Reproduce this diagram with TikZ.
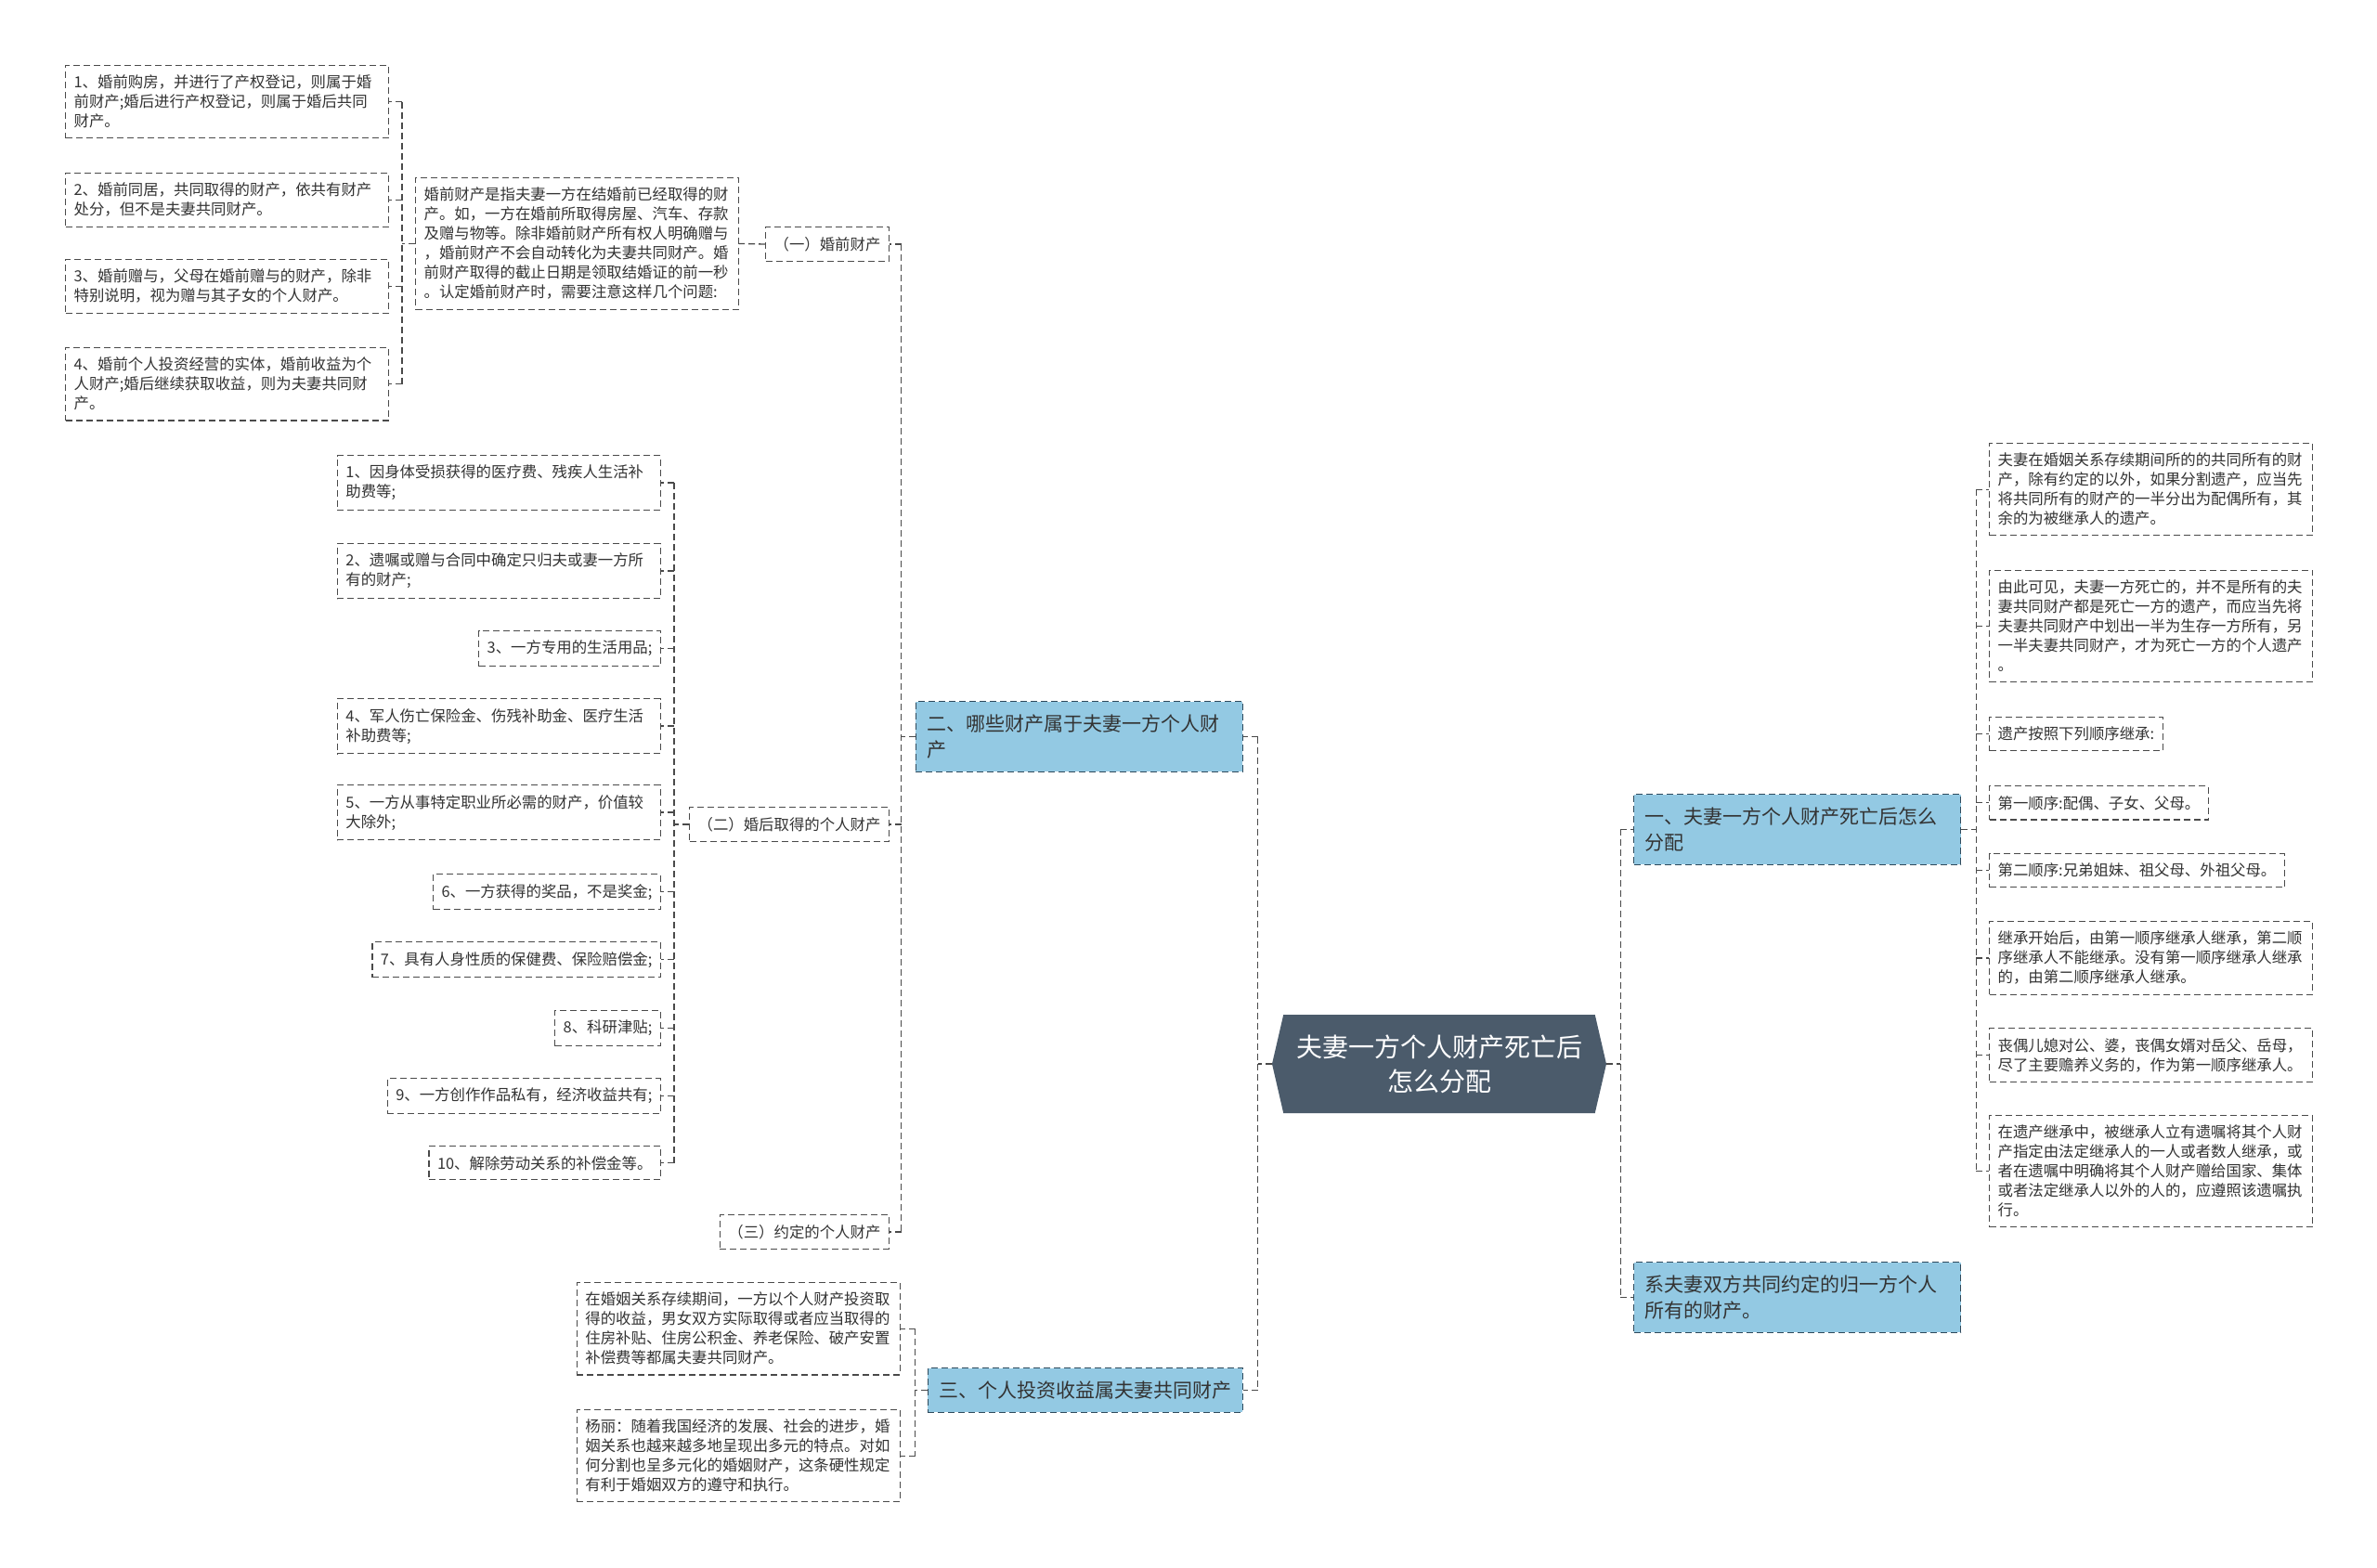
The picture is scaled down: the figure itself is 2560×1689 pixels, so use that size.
\documentclass[tikz,border=0pt]{standalone}
\usepackage{fontspec}
\setmainfont{Noto Sans CJK SC}
\usetikzlibrary{shapes.symbols}
\definecolor{cRoot}{HTML}{4B5B6B}
\definecolor{cSec}{HTML}{93C9E3}
\definecolor{cSecLine}{HTML}{2F4A5C}
\definecolor{cLeafLine}{HTML}{4A4A4A}
\definecolor{cText}{HTML}{333333}

\begin{document}
\begin{tikzpicture}[
  x=1pt, y=-1pt,
  every node/.style={text=cText},
  leaf/.style={draw=cLeafLine, line width=1.2pt, dash pattern=on 7pt off 4pt, fill=white, align=left, inner xsep=9pt, inner ysep=10.5pt, font=\fontsize{16.4}{21}\selectfont},
  wide/.style={leaf, text width=330pt},
  sec/.style={draw=cSecLine, line width=1.4pt, dash pattern=on 7pt off 4pt, fill=cSec, align=left, inner xsep=12pt, inner ysep=14pt, font=\fontsize{21}{28}\selectfont},
  secwide/.style={sec, text width=328pt},
  root/.style={shape=signal, signal to=west and east, signal pointer angle=154, fill=cRoot, text=white, align=center, minimum width=360pt, minimum height=106pt, inner sep=0pt, font=\fontsize{28}{37}\selectfont},
  link/.style={draw=cLeafLine, line width=1.3pt, dash pattern=on 7pt off 4pt},
]
\useasboundingbox (0,0) rectangle (2560,1689);

% centre
\node[root] (root) at (1550,1146) {夫妻一方个人财产死亡后\\怎么分配};

% left: sections
\node[secwide, anchor=north east] (s2) at (1339,755) {二、哪些财产属于夫妻一方个人财\\产};
\node[sec, anchor=north east] (s3) at (1339,1473) {三、个人投资收益属夫妻共同财产};

\node[leaf, anchor=east] (c1) at (958,263) {（一）婚前财产};
\node[leaf, anchor=east] (c2) at (958,888) {（二）婚后取得的个人财产};
\node[leaf, anchor=east] (c3) at (958,1327) {（三）约定的个人财产};

\node[wide, anchor=north west] (d0) at (447,191) {婚前财产是指夫妻一方在结婚前已经取得的财\\产。如，一方在婚前所取得房屋、汽车、存款\\及赠与物等。除非婚前财产所有权人明确赠与\\，婚前财产不会自动转化为夫妻共同财产。婚\\前财产取得的截止日期是领取结婚证的前一秒\\。认定婚前财产时，需要注意这样几个问题:};

\node[wide, anchor=north west] (l1) at (70,70) {1、婚前购房，并进行了产权登记，则属于婚\\前财产;婚后进行产权登记，则属于婚后共同\\财产。};
\node[wide, anchor=north west] (l2) at (70,186) {2、婚前同居，共同取得的财产，依共有财产\\处分，但不是夫妻共同财产。};
\node[wide, anchor=north west] (l3) at (70,279) {3、婚前赠与，父母在婚前赠与的财产，除非\\特别说明，视为赠与其子女的个人财产。};
\node[wide, anchor=north west] (l4) at (70,374) {4、婚前个人投资经营的实体，婚前收益为个\\人财产;婚后继续获取收益，则为夫妻共同财\\产。};

\node[wide, anchor=north east] (a1) at (712,490) {1、因身体受损获得的医疗费、残疾人生活补\\助费等;};
\node[wide, anchor=north east] (a2) at (712,585) {2、遗嘱或赠与合同中确定只归夫或妻一方所\\有的财产;};
\node[leaf, anchor=north east] (a3) at (712,679) {3、一方专用的生活用品;};
\node[wide, anchor=north east] (a4) at (712,752) {4、军人伤亡保险金、伤残补助金、医疗生活\\补助费等;};
\node[wide, anchor=north east] (a5) at (712,845) {5、一方从事特定职业所必需的财产，价值较\\大除外;};
\node[leaf, anchor=north east] (a6) at (712,941) {6、一方获得的奖品，不是奖金;};
\node[leaf, anchor=north east] (a7) at (712,1014) {7、具有人身性质的保健费、保险赔偿金;};
\node[leaf, anchor=north east] (a8) at (712,1088) {8、科研津贴;};
\node[leaf, anchor=north east] (a9) at (712,1161) {9、一方创作作品私有，经济收益共有;};
\node[leaf, anchor=north east] (a10) at (712,1234) {10、解除劳动关系的补偿金等。};

\node[wide, anchor=north east] (b1) at (970,1381) {在婚姻关系存续期间，一方以个人财产投资取\\得的收益，男女双方实际取得或者应当取得的\\住房补贴、住房公积金、养老保险、破产安置\\补偿费等都属夫妻共同财产。};
\node[wide, anchor=north east] (b2) at (970,1518) {杨丽：随着我国经济的发展、社会的进步，婚\\姻关系也越来越多地呈现出多元的特点。对如\\何分割也呈多元化的婚姻财产，这条硬性规定\\有利于婚姻双方的遵守和执行。};

% right: sections
\node[secwide, anchor=north west] (s1) at (1759,855) {一、夫妻一方个人财产死亡后怎么\\分配};
\node[secwide, anchor=north west] (s4) at (1759,1359) {系夫妻双方共同约定的归一方个人\\所有的财产。};

\node[wide, anchor=north west] (r1) at (2142,477) {夫妻在婚姻关系存续期间所的的共同所有的财\\产，除有约定的以外，如果分割遗产，应当先\\将共同所有的财产的一半分出为配偶所有，其\\余的为被继承人的遗产。};
\node[wide, anchor=north west] (r2) at (2142,614) {由此可见，夫妻一方死亡的，并不是所有的夫\\妻共同财产都是死亡一方的遗产，而应当先将\\夫妻共同财产中划出一半为生存一方所有，另\\一半夫妻共同财产，才为死亡一方的个人遗产\\。};
\node[leaf, anchor=north west] (r3) at (2142,772) {遗产按照下列顺序继承:};
\node[leaf, anchor=north west] (r4) at (2142,846) {第一顺序:配偶、子女、父母。};
\node[leaf, anchor=north west] (r5) at (2142,919) {第二顺序:兄弟姐妹、祖父母、外祖父母。};
\node[wide, anchor=north west] (r6) at (2142,992) {继承开始后，由第一顺序继承人继承，第二顺\\序继承人不能继承。没有第一顺序继承人继承\\的，由第二顺序继承人继承。};
\node[wide, anchor=north west] (r7) at (2142,1107) {丧偶儿媳对公、婆，丧偶女婿对岳父、岳母，\\尽了主要赡养义务的，作为第一顺序继承人。};
\node[wide, anchor=north west] (r8) at (2142,1201) {在遗产继承中，被继承人立有遗嘱将其个人财\\产指定由法定继承人的一人或者数人继承，或\\者在遗嘱中明确将其个人财产赠给国家、集体\\或者法定继承人以外的人的，应遵照该遗嘱执\\行。};

% connectors
\draw[link] (root.west) -- ++(-15,0) coordinate (bRootL);
\draw[link] (bRootL |- s2.east) -- (bRootL |- s3.east);
\foreach \n in {s2,s3} \draw[link] (bRootL |- \n.east) -- (\n.east);

\draw[link] (root.east) -- ++(15,0) coordinate (bRootR);
\draw[link] (bRootR |- s1.west) -- (bRootR |- s4.west);
\foreach \n in {s1,s4} \draw[link] (bRootR |- \n.west) -- (\n.west);

\draw[link] (s2.west) -- ++(-15,0) coordinate (bSec2);
\draw[link] (bSec2 |- c1.east) -- (bSec2 |- c3.east);
\foreach \n in {c1,c2,c3} \draw[link] (bSec2 |- \n.east) -- (\n.east);

\draw[link] (s3.west) -- ++(-13,0) coordinate (bSec3);
\draw[link] (bSec3 |- b1.east) -- (bSec3 |- b2.east);
\foreach \n in {b1,b2} \draw[link] (bSec3 |- \n.east) -- (\n.east);

\draw[link] (c1.west) -- (d0.east);

\draw[link] (d0.west) -- ++(-14,0) coordinate (bPre);
\draw[link] (bPre |- l1.east) -- (bPre |- l4.east);
\foreach \n in {l1,l2,l3,l4} \draw[link] (bPre |- \n.east) -- (\n.east);

\draw[link] (c2.west) -- ++(-16,0) coordinate (bPost);
\draw[link] (bPost |- a1.east) -- (bPost |- a10.east);
\foreach \n in {a1,a2,a3,a4,a5,a6,a7,a8,a9,a10} \draw[link] (bPost |- \n.east) -- (\n.east);

\draw[link] (s1.east) -- ++(16,0) coordinate (bSec1);
\draw[link] (bSec1 |- r1.west) -- (bSec1 |- r8.west);
\foreach \n in {r1,r2,r3,r4,r5,r6,r7,r8} \draw[link] (bSec1 |- \n.west) -- (\n.west);

\end{tikzpicture}
\end{document}
